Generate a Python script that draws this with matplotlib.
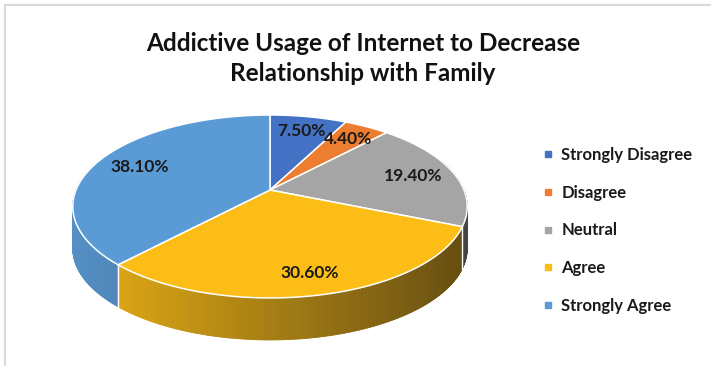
import numpy as np
import matplotlib
matplotlib.use('Agg')
import matplotlib.pyplot as plt
from matplotlib.patches import Polygon
from matplotlib.lines import Line2D
from matplotlib.colors import to_rgb

# ---- data ----
categories = ['Strongly Disagree', 'Disagree', 'Neutral', 'Agree', 'Strongly Agree']
values = [7.5, 4.4, 19.4, 30.6, 38.1]
value_labels = ['7.50%', '4.40%', '19.40%', '30.60%', '38.10%']
colors = ['#4472C4', '#ED7D31', '#A5A5A5', '#FBBD16', '#5B9BD5']
title = 'Addictive Usage of Internet to Decrease\nRelationship with Family'

plt.rcParams['font.family'] = ['Lato', 'DejaVu Sans']

W, H = 711, 366
fig = plt.figure(figsize=(W / 100, H / 100), dpi=100)
fig.patch.set_facecolor('white')
ax = fig.add_axes([0, 0, 1, 1])
ax.set_xlim(0, W)
ax.set_ylim(H, 0)
ax.axis('off')

# layout of the 3-D pie (pixels)
CX, CY, RX, RY, K, DEPTH = 270, 190, 194, 88.5, 0.18, 42


def proj(theta_deg, r=1.0):
    t = np.radians(theta_deg)
    u = r * np.sin(t)
    v = r * np.cos(t)
    s = 1.0 / (1.0 + K * v)
    return CX + RX * u * s, CY - RY * v * s


def shade(x):
    return float(np.clip(0.92 - 0.54 * (x - 74) / 386.0, 0.3, 1.0))


total = float(sum(values))
bounds = np.concatenate([[0.0], np.cumsum(values) / total * 360.0])

# ---- side walls (with horizontal gradient) ----
strips = []
for i, c in enumerate(colors):
    a0, a1 = bounds[i], bounds[i + 1]
    n = max(2, int(np.ceil((a1 - a0) / 0.5)))
    th = np.linspace(a0, a1, n + 1)
    base = np.array(to_rgb(c))
    for j in range(n):
        ta, tb = th[j], th[j + 1]
        mid = 0.5 * (ta + tb)
        if np.cos(np.radians(mid)) > 0.35:
            continue
        xa, ya = proj(ta)
        xb, yb = proj(tb)
        f = shade(0.5 * (xa + xb))
        col = np.clip(base * f + (1 - f) * np.array([0.05, 0.045, 0.05]), 0, 1)
        strips.append((-np.cos(np.radians(mid)),
                       [(xa, ya), (xb, yb), (xb, yb + DEPTH), (xa, ya + DEPTH)], col))
strips.sort(key=lambda s: s[0])
for _, pts, col in strips:
    ax.add_patch(Polygon(pts, closed=True, facecolor=col, edgecolor=col,
                         linewidth=0.6, zorder=1))

# white seams on the wall at visible slice boundaries
for b in bounds[1:-1]:
    if np.cos(np.radians(b)) < -0.1:
        x, y = proj(b)
        ax.plot([x, x], [y, y + DEPTH], color='white', lw=1.0, zorder=2)

# ---- top faces ----
cx0, cy0 = proj(0, 0)
for i, c in enumerate(colors):
    a0, a1 = bounds[i], bounds[i + 1]
    th = np.linspace(a0, a1, max(3, int((a1 - a0) / 0.5)))
    pts = [(cx0, cy0)] + [proj(t) for t in th]
    ax.add_patch(Polygon(pts, closed=True, facecolor=c, edgecolor='white',
                         linewidth=1.1, joinstyle='round', zorder=3))

# ---- data labels ----
label_r = [0.78, 0.78, 0.78, 0.82, 0.76]
for i, lab in enumerate(value_labels):
    mid = 0.5 * (bounds[i] + bounds[i + 1])
    x, y = proj(mid, label_r[i])
    ax.text(x, y, lab, ha='center', va='center', fontsize=12.5, fontweight='bold',
            color='#1a1a1a', zorder=5)

# ---- title ----
fig.text(363 / W, 1 - 58.5 / H, title, ha='center', va='center', fontsize=17.5,
         fontweight='bold', color='#111111', linespacing=1.32)

# ---- legend ----
handles = [Line2D([], [], marker='s', linestyle='', color=c, markersize=5) for c in colors]
leg = fig.legend(handles, categories, loc='center left',
                 bbox_to_anchor=(542 / W, 1 - 230.5 / H), frameon=False,
                 prop={'size': 12, 'weight': 'bold'}, labelspacing=1.3,
                 handlelength=0.7, handletextpad=0.45, borderpad=0, borderaxespad=0)
for t in leg.get_texts():
    t.set_color('#1a1a1a')

# ---- chart frame ----
ax.plot([5, 5], [H, 5], color='#d9d9d9', lw=1.5, zorder=0)
ax.plot([5, W], [5, 5], color='#d9d9d9', lw=1.5, zorder=0)

fig.savefig('out.png', dpi=100, facecolor='white')
